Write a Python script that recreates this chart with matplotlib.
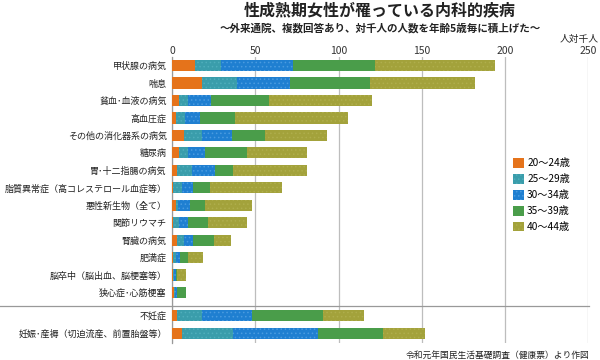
import numpy as np
import matplotlib.pyplot as plt
from matplotlib.patches import Patch

plt.rcParams['font.family'] = ['Noto Sans CJK JP', 'DejaVu Sans']
plt.rcParams['hatch.linewidth'] = 0.6

labels = ['甲状腺の病気', '喘息', '貧血･血液の病気', '高血圧症', 'その他の消化器系の病気',
          '糖尿病', '胃･十二指腸の病気', '脂質異常症（高コレステロール血症等）',
          '悪性新生物（全て）', '関節リウマチ', '腎臓の病気', '肥満症',
          '脳卒中（脳出血、脳梗塞等）', '狭心症･心筋梗塞', '不妊症',
          '妊娠･産褥（切迫流産、前置胎盤等）']
ages = ['20～24歳', '25～29歳', '30～34歳', '35～39歳', '40～44歳']

a20 = [14, 18, 3.8, 2.4, 7.2, 3.8, 2.6, 0.7, 2.2, 0.5, 2.6, 0.6, 0.3, 1.2, 3, 5.8]
a25 = [15.4, 21, 5.6, 5.2, 10.6, 5.6, 9.2, 5.1, 1.2, 3.3, 4.4, 1.6, 0.5, 0.6, 14.8, 30.8]
a30 = [43.4, 32, 14, 9.2, 18, 10.2, 14, 6.6, 7.4, 5.8, 5.8, 2.6, 1.6, 1.0, 30, 51]
a35 = [49, 48, 35, 21, 20, 25.2, 11, 10.6, 9, 12.2, 12.2, 5, 0.4, 5.2, 42.6, 39.4]
a40 = [72.4, 63, 61.6, 68, 37.2, 36.2, 44, 42.8, 28, 23, 10.6, 8.8, 5.2, 0, 24.8, 25]

colors = ['#E5731B', '#3A9DAB', '#1F7FD1', '#4A9D4A', '#A3A23B']
hatch_cols = ['#E5731B', '#4FAEBB', '#4A9BE0', '#4A9D4A', '#AFAE4C']
hatches = [None, '....', '....', None, '....']

# rows 0..13 then a gap before the last two
ypos = np.array(list(range(14)) + [14.3, 15.35])

fig = plt.figure(figsize=(6, 3.6), dpi=100)
ax = fig.add_axes([0.287, 0.047, 0.693, 0.795])

left = np.zeros(len(labels))
for vals, c, hc, h in zip([a20, a25, a30, a35, a40], colors, hatch_cols, hatches):
    vals = np.array(vals)
    ax.barh(ypos, vals, left=left, height=0.64, color=c, edgecolor=hc,
            linewidth=0, hatch=h, zorder=3)
    left += vals

ax.set_xlim(0, 250)
ax.set_ylim(15.35 + 0.55, -0.5)
ax.set_xticks([0, 50, 100, 150, 200, 250])
ax.xaxis.tick_top()
ax.tick_params(axis='x', length=0, labelsize=7.5, pad=0.5, colors='#333333')
ax.set_yticks(ypos)
ax.set_yticklabels(labels, fontsize=6.5)
ax.tick_params(axis='y', length=0, pad=4, colors='#222222')
ax.grid(axis='x', color='#BDBDBD', linewidth=0.9, zorder=0)
for s in ['top', 'right', 'bottom']:
    ax.spines[s].set_visible(False)
ax.spines['left'].set_color('#999999')
ax.spines['left'].set_linewidth(0.9)

# separator between groups
sep = (13 + 14.3) / 2 + 0.1
ax.plot([-0.415, 1.003], [sep, sep], color='#999999', linewidth=0.9,
        transform=ax.get_yaxis_transform(), clip_on=False, zorder=4)

fig.text(0.633, 0.972, '性成熟期女性が罹っている内科的疾病', ha='center', va='center',
         fontsize=11.5, fontweight='bold', color='#222222')
fig.text(0.633, 0.922, '～外来通院、複数回答あり、対千人の人数を年齢5歳毎に積上げた～',
         ha='center', va='center', fontsize=7.6, fontweight='bold', color='#222222')
fig.text(0.997, 0.893, '人対千人', ha='right', va='center', fontsize=7, color='#222222')
fig.text(0.983, 0.014, '令和元年国民生活基礎調査（健康票）より作図', ha='right', va='center',
         fontsize=6.3, color='#222222')

handles = [Patch(facecolor=c, edgecolor=hc, linewidth=0, hatch=h)
           for c, hc, h in zip(colors, hatch_cols, hatches)]
fig.legend(handles, ages, loc='upper left', bbox_to_anchor=(0.848, 0.572),
           frameon=False, fontsize=7.3, handlelength=1.1, handleheight=1.1,
           handletextpad=0.3, labelspacing=0.55, borderaxespad=0)

fig.savefig('out.png', dpi=100)
